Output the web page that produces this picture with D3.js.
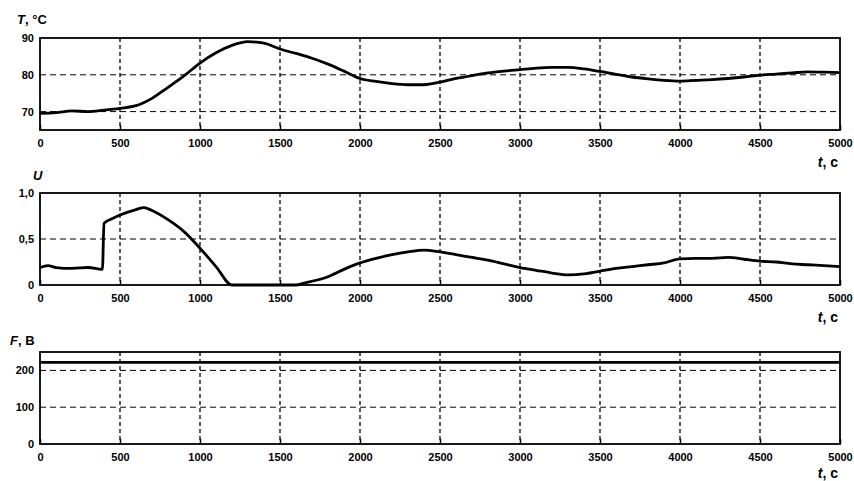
<!DOCTYPE html>
<html>
<head>
<meta charset="utf-8">
<script src="https://cdn.jsdelivr.net/npm/d3@7"></script>
<style>
body { margin: 0; background: #fff; }
svg text { font-family: 'Liberation Sans', Arial, sans-serif; fill: #000; }
</style>
</head>
<body>
<svg id="chart"></svg>
<script>
var chartWidth = 854
var chartHeight = 481
var plotLeft = 40, plotRight = 840

var timeTicks = [0, 500, 1000, 1500, 2000, 2500, 3000, 3500, 4000, 4500, 5000]

// temperature T, °C
var tempTime = [0, 100, 200, 300, 400, 500, 600, 700, 800, 900, 1000, 1100, 1200, 1300, 1400, 1500, 1600, 1700, 1800, 1900, 2000, 2100, 2200, 2300, 2400, 2500, 2600, 2700, 2800, 2900, 3000, 3100, 3200, 3300, 3400, 3500, 3600, 3700, 3800, 3900, 4000, 4100, 4200, 4300, 4400, 4500, 4600, 4700, 4800, 4900, 5000]
var tempValues = [69.5, 69.7, 70.2, 70.0, 70.4, 70.9, 71.6, 73.6, 76.6, 79.7, 83.2, 86.0, 88.0, 89.0, 88.6, 87.0, 85.8, 84.5, 82.9, 81.0, 79.0, 78.2, 77.6, 77.3, 77.3, 78.0, 79.0, 79.8, 80.5, 81.0, 81.4, 81.8, 82.0, 82.0, 81.6, 80.9, 80.1, 79.4, 78.9, 78.5, 78.3, 78.5, 78.7, 79.0, 79.4, 79.9, 80.2, 80.5, 80.8, 80.7, 80.6]
var tempTicks = [70, 80, 90]

// control U
var ctrlTime = [0, 50, 100, 200, 300, 390, 400, 450, 500, 600, 650, 700, 800, 900, 1000, 1100, 1200, 1300, 1400, 1500, 1600, 1650, 1800, 1900, 2000, 2100, 2200, 2300, 2400, 2500, 2600, 2700, 2800, 2900, 3000, 3100, 3200, 3300, 3400, 3500, 3600, 3700, 3800, 3900, 4000, 4100, 4200, 4300, 4400, 4500, 4600, 4700, 4800, 4900, 5000]
var ctrlValues = [0.19, 0.21, 0.19, 0.18, 0.19, 0.17, 0.67, 0.72, 0.76, 0.82, 0.84, 0.81, 0.71, 0.58, 0.40, 0.20, 0.0, 0.0, 0.0, 0.0, 0.0, 0.02, 0.09, 0.17, 0.24, 0.29, 0.33, 0.36, 0.38, 0.36, 0.33, 0.30, 0.27, 0.23, 0.19, 0.16, 0.13, 0.11, 0.12, 0.15, 0.18, 0.20, 0.22, 0.24, 0.285, 0.29, 0.29, 0.30, 0.28, 0.26, 0.25, 0.23, 0.22, 0.21, 0.20]
var ctrlTicks = [0, 0.5, 1.0]
var ctrlTickLabels = ['0', '0,5', '1,0']

// supply F, B
var supplyTime = [0, 5000]
var supplyValues = [222, 222]
var supplyTicks = [0, 100, 200]

var panels = [
    { top: 38, bottom: 130, domain: [65, 90], ticks: tempTicks, labels: null, x: tempTime, y: tempValues, title: 'T', unit: ', °C', titleX: 17, titleY: 24, tLabelY: 167 },
    { top: 193, bottom: 285, domain: [0, 1], ticks: ctrlTicks, labels: ctrlTickLabels, x: ctrlTime, y: ctrlValues, title: 'U', unit: '', titleX: 33, titleY: 180, tLabelY: 322 },
    { top: 352, bottom: 444, domain: [0, 250], ticks: supplyTicks, labels: null, x: supplyTime, y: supplyValues, title: 'F', unit: ', B', titleX: 10, titleY: 345, tLabelY: 478 }
]

var svg = d3.select('#chart')
    .attr('width', chartWidth)
    .attr('height', chartHeight)

var xScale = d3.scaleLinear().domain([0, 5000]).range([plotLeft, plotRight])

panels.forEach(function (p) {
    var yScale = d3.scaleLinear().domain(p.domain).range([p.bottom, p.top])
    var h = p.bottom - p.top
    var g = svg.append('g')

    // vertical grid
    g.selectAll('.vgrid')
        .data(timeTicks.slice(1, -1))
        .enter()
        .append('line')
        .attr('x1', function (d) { return xScale(d) })
        .attr('x2', function (d) { return xScale(d) })
        .attr('y1', p.top)
        .attr('y2', p.bottom)
        .attr('stroke', '#000')
        .attr('stroke-width', 1.3)
        .attr('stroke-dasharray', '4,3')
    // horizontal grid
    g.selectAll('.hgrid')
        .data(p.ticks.filter(function (d) { return d > p.domain[0] && d < p.domain[1] }))
        .enter()
        .append('line')
        .attr('x1', plotLeft)
        .attr('x2', plotRight)
        .attr('y1', function (d) { return yScale(d) })
        .attr('y2', function (d) { return yScale(d) })
        .attr('stroke', '#000')
        .attr('stroke-width', 1)
        .attr('stroke-dasharray', '6,4')

    // axes
    var xAxis = d3.axisBottom(xScale).tickValues(timeTicks).tickSize(-5).tickPadding(9)
        .tickFormat(d3.format('d'))
    var xg = g.append('g')
        .attr('transform', 'translate(0, ' + p.bottom + ')')
        .call(xAxis)
    var yAxis = d3.axisLeft(yScale).tickValues(p.ticks).tickSize(0).tickPadding(6)
    if (p.labels) {
        yAxis.tickFormat(function (d, i) { return p.labels[i] })
    }
    var yg = g.append('g')
        .attr('transform', 'translate(' + plotLeft + ', 0)')
        .call(yAxis)
    ;[xg, yg].forEach(function (a) {
        a.select('.domain').remove()
        a.selectAll('line').attr('stroke', '#000').attr('stroke-width', 1.5)
        a.selectAll('text')
            .style('font-size', '11px')
            .style('font-weight', 'bold')
            .style('font-family', 'Liberation Sans, Arial, sans-serif')
    })

    // frame
    g.append('rect')
        .attr('x', plotLeft)
        .attr('y', p.top)
        .attr('width', plotRight - plotLeft)
        .attr('height', h)
        .attr('fill', 'none')
        .attr('stroke', '#000')
        .attr('stroke-width', 1.8)

    // data line
    var line = d3.line()
        .x(function (d, i) { return xScale(p.x[i]) })
        .y(function (d) { return yScale(d) })
        .curve(d3.curveMonotoneX)
    g.append('path')
        .datum(p.y)
        .attr('d', line)
        .attr('fill', 'none')
        .attr('stroke', '#000')
        .attr('stroke-width', 2.8)

    // titles
    var title = g.append('text')
        .attr('x', p.titleX)
        .attr('y', p.titleY)
        .style('font-size', '13px')
        .style('font-weight', 'bold')
    title.append('tspan').style('font-style', 'italic').text(p.title)
    title.append('tspan').text(p.unit)

    var tLabel = g.append('text')
        .attr('x', 838)
        .attr('y', p.tLabelY)
        .attr('text-anchor', 'end')
        .style('font-size', '14px')
        .style('font-weight', 'bold')
    tLabel.append('tspan').style('font-style', 'italic').text('t')
    tLabel.append('tspan').text(', c')
})
</script>
</body>
</html>
